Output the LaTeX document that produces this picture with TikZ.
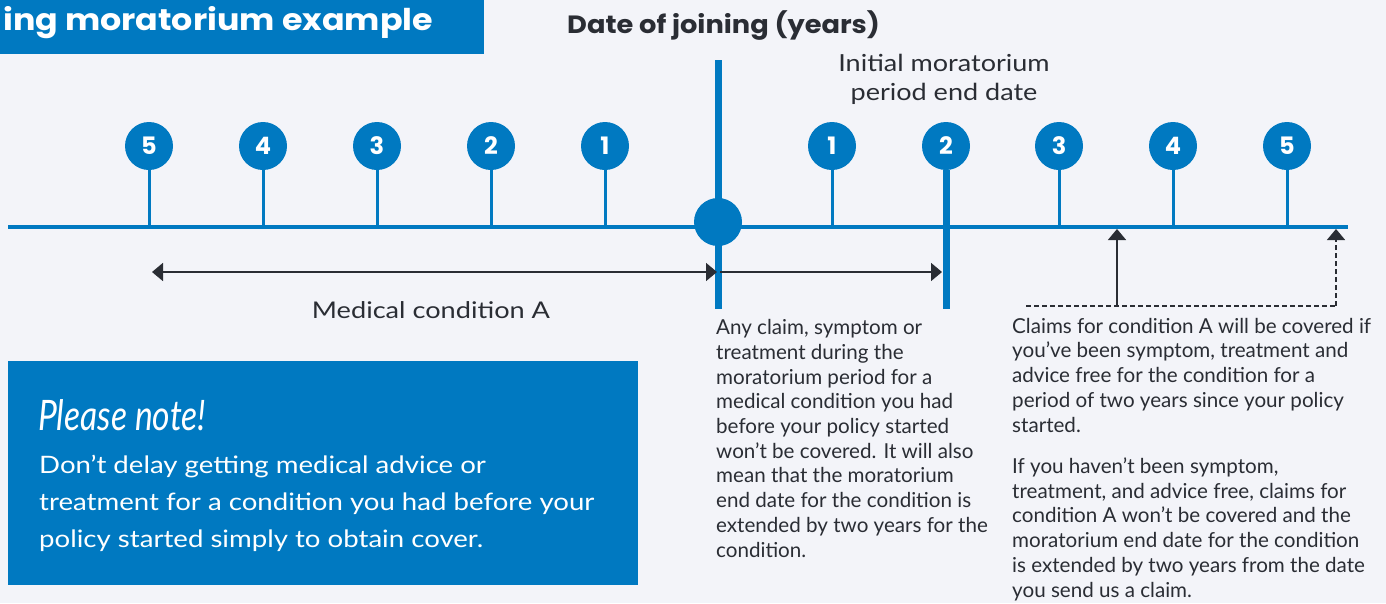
\documentclass[tikz,border=0pt]{standalone}
\usepackage{fontspec}
\setmainfont{Lato}
\newfontfamily\boldfont{Poppins}
\newfontfamily\titlefont[FakeStretch=1.11]{Poppins}
\newfontfamily\dojfont[FakeStretch=1.09]{Poppins}
\newfontfamily\wideA[FakeStretch=1.15]{Lato}
\newfontfamily\wideB[FakeStretch=1.18]{Lato}
\newfontfamily\wideC[FakeStretch=1.15]{Lato}
\newfontfamily\handfont[FakeStretch=0.8]{Lato}
\usetikzlibrary{arrows.meta}
\definecolor{bgc}{HTML}{F3F4F9}
\definecolor{blu}{HTML}{0079C1}
\definecolor{ink}{HTML}{2A2D34}
\tikzset{
  numdot/.style={circle,fill=blu,minimum size=48pt,inner sep=0pt,text=white,font=\boldfont\fontsize{24}{24}\selectfont\bfseries},
  stem/.style={blu,line width=3pt},
  thick line/.style={blu,line width=7pt},
  darrow/.style={ink,line width=1.6pt,-{Triangle[length=11pt,width=18pt]}},
  body/.style={inner sep=0pt,anchor=base west,align=left,text=ink,font=\fontsize{20.6}{24.7}\selectfont},
}
\begin{document}
\begin{tikzpicture}[x=1pt,y=-1pt]
\useasboundingbox (0,0) rectangle (1386,603);
\fill[bgc] (0,0) rectangle (1386,603);
% title
\fill[blu] (0,0) rectangle (484,54);
\node[inner sep=0pt,anchor=base west,text=white,font=\titlefont\fontsize{30}{30}\selectfont\bfseries] (title) at (3,30) {ing moratorium example};
\node[inner sep=0pt,anchor=base west,text=ink,font=\dojfont\fontsize{25}{25}\selectfont\bfseries] (doj) at (567,33) {Date of joining (years)};
\node[inner sep=0pt,anchor=base,text=ink,align=center,font=\wideA\fontsize{23.5}{28.5}\selectfont] (imp) at (944,100) {Initial moratorium\\period end date};
% timeline
\coordinate (tls) at (8,227);
\coordinate (tle) at (1348,227);
\draw[blu,line width=4.5pt] (tls) -- (tle);
% vertical joining line
\coordinate (jtop) at (718,60);
\coordinate (jbot) at (718,309);
\draw[thick line] (jtop) -- (jbot);
\node[circle,fill=blu,minimum size=48pt,inner sep=0pt] (J) at (718,222) {};
% year dots
\foreach \n/\x in {5/149,4/263,3/377,2/491,1/605}{
  \node[numdot] (L\n) at (\x,146) {\n};
  \draw[stem] (L\n.south) -- (L\n |- tls);
}
\foreach \n/\x in {1/832,3/1059,4/1173,5/1287}{
  \node[numdot] (R\n) at (\x,146) {\n};
  \draw[stem] (R\n.south) -- (R\n |- tls);
}
\node[numdot] (R2) at (946,146) {2};
\coordinate (ebot) at (946,309);
\draw[thick line] (R2.south) -- (ebot);
% condition arrows
\coordinate (ma) at (152,272);
\coordinate (mb) at (717,272);
\coordinate (mb2) at (720,272);
\coordinate (mc) at (942,272);
\draw[darrow,{Triangle[length=11pt,width=18pt]}-{Triangle[length=11pt,width=18pt]}] (ma) -- (mb);
\draw[darrow] (mb2) -- (mc);
\node[inner sep=0pt,anchor=base,text=ink,font=\wideB\fontsize{23}{23}\selectfont] (mca) at (431,318) {Medical condition A};
% right arrows
\coordinate (da) at (1026,306);
\coordinate (db) at (1117,306);
\coordinate (dc) at (1336,306);
\coordinate (ta) at (1117,229);
\coordinate (tb) at (1336,229);
\draw[darrow] (db) -- (ta);
\draw[ink,line width=1.6pt,dash pattern=on 5pt off 3pt] (da) -- (dc);
\draw[darrow,dash pattern=on 5pt off 3pt] (dc) -- (tb);
% text blocks
\node[body] (mid) at (716,557) {Any claim, symptom or\\treatment during the\\moratorium period for a\\medical condition you had\\before your policy started\\won’t be covered. It will also\\mean that the moratorium\\end date for the condition is\\extended by two years for the\\condition.};
\node[body] (rt1) at (1012,432) {Claims for condition A will be covered if\\you’ve been symptom, treatment and\\advice free for the condition for a\\period of two years since your policy\\started.};
\node[body] (rt2) at (1012,597) {If you haven’t been symptom,\\treatment, and advice free, claims for\\condition A won’t be covered and the\\moratorium end date for the condition\\is extended by two years from the date\\you send us a claim.};
% note box
\fill[blu] (8,361) rectangle (638,585);
\node[inner sep=0pt,anchor=base west,text=white,font=\handfont\fontsize{42}{42}\selectfont\itshape] (pn) at (38,430) {Please note!};
\node[inner sep=0pt,anchor=base west,align=left,text=white,font=\wideC\fontsize{24}{37}\selectfont] (nt) at (39,547) {Don’t delay getting medical advice or\\treatment for a condition you had before your\\policy started simply to obtain cover.};
\end{tikzpicture}
\end{document}
